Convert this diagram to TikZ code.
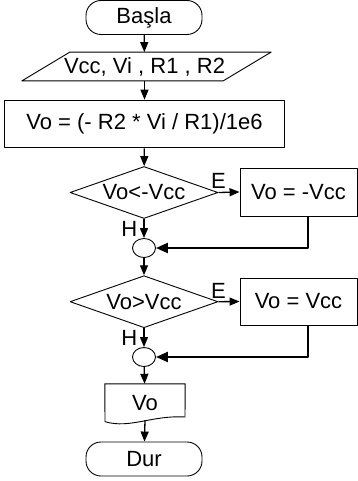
\documentclass[tikz,border=0pt]{standalone}
\usepackage{fontspec}
\setmainfont{Liberation Sans}
\usetikzlibrary{shapes.geometric, arrows.meta}

\begin{document}
\begin{tikzpicture}[x=1pt, y=-1pt, line join=round,
    font=\fontsize{22}{26}\selectfont,
    term/.style={draw, line width=0.9pt, rectangle, rounded corners=15pt,
      minimum width=116pt, minimum height=34pt, inner sep=0pt},
    proc/.style={draw, line width=0.9pt, rectangle, inner sep=0pt},
    cond/.style={draw, line width=0.9pt, diamond, aspect=2.85, inner sep=0pt,
      minimum width=148pt, minimum height=52pt},
    joint/.style={draw, line width=0.9pt, ellipse, inner sep=0pt,
      minimum width=23pt, minimum height=19pt},
    flow/.style={line width=1.3pt, -{Triangle[length=10pt, width=8pt]}},
    back/.style={line width=2.2pt, -{Triangle[length=12pt, width=10pt]}}]

  \useasboundingbox (0,0) rectangle (358,481);

  % Start and input
  \node[term] (start) at (144,17.5) {Başla};
  \node[minimum width=201pt, minimum height=28.4pt, inner sep=0pt] (inp) at (144.5,66.5) {Vcc, Vi , R1 , R2};
  \draw[line width=0.9pt] ([xshift=26pt]inp.north west) -- ([xshift=26pt]inp.north east)
    -- ([xshift=-22pt]inp.south east) -- ([xshift=-22pt]inp.south west) -- cycle;

  % Calculation
  \node[proc, minimum width=280pt, minimum height=47.7pt] (calc) at (144.5,124) {Vo = (- R2 * Vi / R1)/1e6};

  % First test
  \node[cond] (low) at (144,192.5) {Vo<-Vcc};
  \node[proc, minimum width=117pt, minimum height=48pt] (setlow) at (298.5,192) {Vo = -Vcc};
  \node[joint] (j1) at (144,248) {};

  % Second test
  \node[cond] (high) at (144,301.7) {Vo>Vcc};
  \node[proc, minimum width=117pt, minimum height=47pt] (sethigh) at (298.5,301.5) {Vo = Vcc};
  \node[joint] (j2) at (144,357) {};

  % Output and end
  \node[minimum width=80pt, minimum height=38pt, inner sep=0pt] (out) at (145,403) {Vo};
  \draw[line width=0.9pt] (out.north west) -- (out.north east) -- (185,417)
    .. controls (152,415) and (130,429) .. (105,421.7) -- cycle;
  \node[term] (stop) at (144,459) {Dur};

  % Connectors
  \draw[flow] (start) -- (inp);
  \draw[flow] (inp) -- (calc);
  \draw[flow] (calc) -- (low);
  \draw[flow] (low.east) -- node[pos=0, above, inner sep=3pt] {E} (setlow.west);
  \draw[flow] (low.south) -- node[left, inner sep=6pt] {H} (j1.north);
  \draw[back] ([xshift=9.5pt]setlow.south) |- (j1.east);
  \draw[flow] (j1) -- (high);
  \draw[flow] (high.east) -- node[pos=0, above, inner sep=3pt] {E} (sethigh.west);
  \draw[flow] (high.south) -- node[left, inner sep=6pt] {H} (j2.north);
  \draw[back] ([xshift=9.5pt]sethigh.south) |- (j2.east);
  \draw[flow] (j2) -- (out);
  \draw[flow] ([yshift=2pt]out.south) -- (stop);
\end{tikzpicture}
\end{document}
